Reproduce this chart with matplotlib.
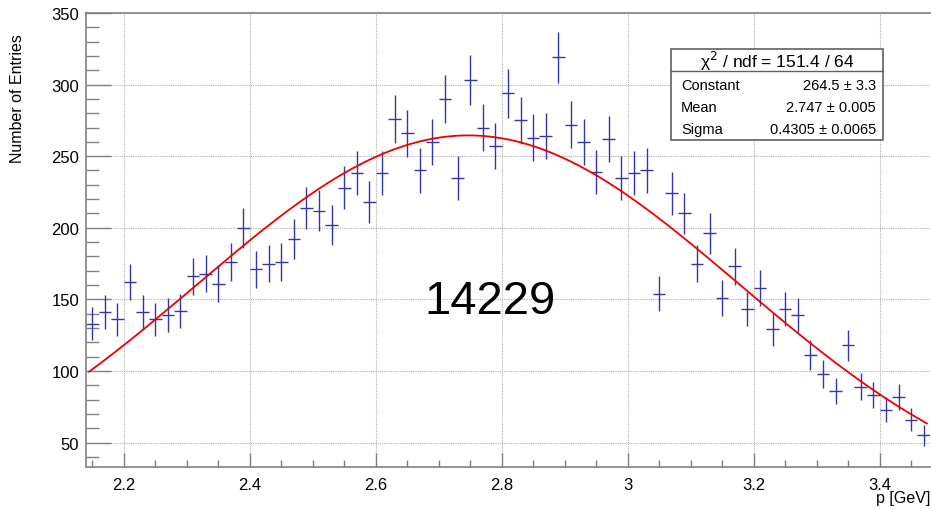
import numpy as np
import matplotlib
matplotlib.use('Agg')
import matplotlib.pyplot as plt
from matplotlib.ticker import MultipleLocator
from matplotlib.patches import Rectangle
from matplotlib.lines import Line2D

plt.rcParams['font.family'] = ['Liberation Sans', 'DejaVu Sans']

# histogram: 67 bins of 0.02 GeV from 2.14 to 3.48
bin_lo = 2.14
bin_w = 0.02
counts = [133, 141, 136, 162, 141, 136, 139, 142, 166, 168,
          161, 176, 200, 171, 175, 176, 192, 214, 212, 202,
          228, 238, 218, 238, 276, 266, 240, 260, 290, 235,
          303, 270, 257, 294, 275, 263, 264, 319, 272, 260,
          239, 262, 235, 238, 240, 154, 224, 210, 175, 196,
          151, 173, 143, 158, 129, 143, 139, 111, 98, 86,
          118, 89, 83, 73, 82, 66, 55]
entries = 14229

# gaus fit result
fit_const, fit_const_err = 264.5, 3.3
fit_mean, fit_mean_err = 2.747, 0.005
fit_sigma, fit_sigma_err = 0.4305, 0.0065
chi2, ndf = 151.4, 64

counts = np.array(counts, dtype=float)
centers = bin_lo + bin_w * (np.arange(len(counts)) + 0.5)
bin_hi = bin_lo + bin_w * len(counts)

W, H = 931, 510
fig = plt.figure(figsize=(W / 100, H / 100), dpi=100)

def fx(px):
    return px / W

def fy(py):
    return 1 - py / H

ax = fig.add_axes([fx(86), fy(468), fx(930) - fx(86), fy(14) - fy(468)])

ax.errorbar(centers, counts, yerr=np.sqrt(counts), xerr=bin_w / 2,
            fmt='none', ecolor='#3535a5', elinewidth=1.0, capsize=0)

xf = np.linspace(bin_lo + 0.005, bin_hi - 0.005, 300)
yf = fit_const * np.exp(-0.5 * ((xf - fit_mean) / fit_sigma) ** 2)
ax.plot(xf, yf, color='#ee0000', lw=1.3)

ax.set_xlim(bin_lo, bin_hi)
ax.set_ylim(32.9, 350)

ax.xaxis.set_major_locator(MultipleLocator(0.2))
ax.xaxis.set_minor_locator(MultipleLocator(0.05))
ax.yaxis.set_major_locator(MultipleLocator(50))
ax.yaxis.set_minor_locator(MultipleLocator(10))
ax.xaxis.set_major_formatter(matplotlib.ticker.FormatStrFormatter('%g'))

ax.tick_params(axis='x', which='major', direction='in', length=10, width=1,
               color='#808080', labelsize=12, pad=7, top=False)
ax.tick_params(axis='x', which='minor', direction='in', length=5, width=1,
               color='#808080', top=False)
ax.tick_params(axis='y', which='major', direction='in', length=18, width=1,
               color='#808080', labelsize=12, pad=5, right=False)
ax.tick_params(axis='y', which='minor', direction='in', length=9, width=1,
               color='#808080', right=False)

ax.grid(True, which='major', color='#b0b0b0', linestyle=(0, (1, 1)), lw=0.8)
ax.set_axisbelow(True)
for s in ax.spines.values():
    s.set_color('#808080')
    s.set_linewidth(1.2)
ax.spines['right'].set_visible(False)

fig.text(fx(18), fy(99), 'Number of Entries', rotation=90, ha='center',
         va='center', fontsize=11.5)
fig.text(fx(930), fy(499), 'p [GeV]', ha='right', va='center', fontsize=11.5)

ax.text(0.479, 0.366, str(entries), transform=ax.transAxes, ha='center',
        va='center', fontsize=34)

# stats box
box = Rectangle((fx(671), fy(141)), fx(883) - fx(671), fy(50) - fy(141),
                transform=fig.transFigure, facecolor='white',
                edgecolor='#606060', lw=1.2, zorder=5)
fig.add_artist(box)
fig.add_artist(Line2D([fx(671), fx(883)], [fy(72), fy(72)],
                      transform=fig.transFigure, color='#606060', lw=1.0,
                      zorder=6))
fig.text(fx(777), fy(61), 'χ$^{2}$ / ndf = %.1f / %d' % (chi2, ndf),
         ha='center', va='center', fontsize=12.5, zorder=7)
rows = [('Constant', '%.1f ± %.1f' % (fit_const, fit_const_err)),
        ('Mean', '%.3f ± %.3f' % (fit_mean, fit_mean_err)),
        ('Sigma', '%.4f ± %.4f' % (fit_sigma, fit_sigma_err))]
for i, (name, val) in enumerate(rows):
    yy = fy(86 + 22 * i)
    fig.text(fx(681), yy, name, ha='left', va='center', fontsize=10.5, zorder=7)
    fig.text(fx(876), yy, val, ha='right', va='center', fontsize=10.5, zorder=7)

fig.savefig('out.png', dpi=100)
